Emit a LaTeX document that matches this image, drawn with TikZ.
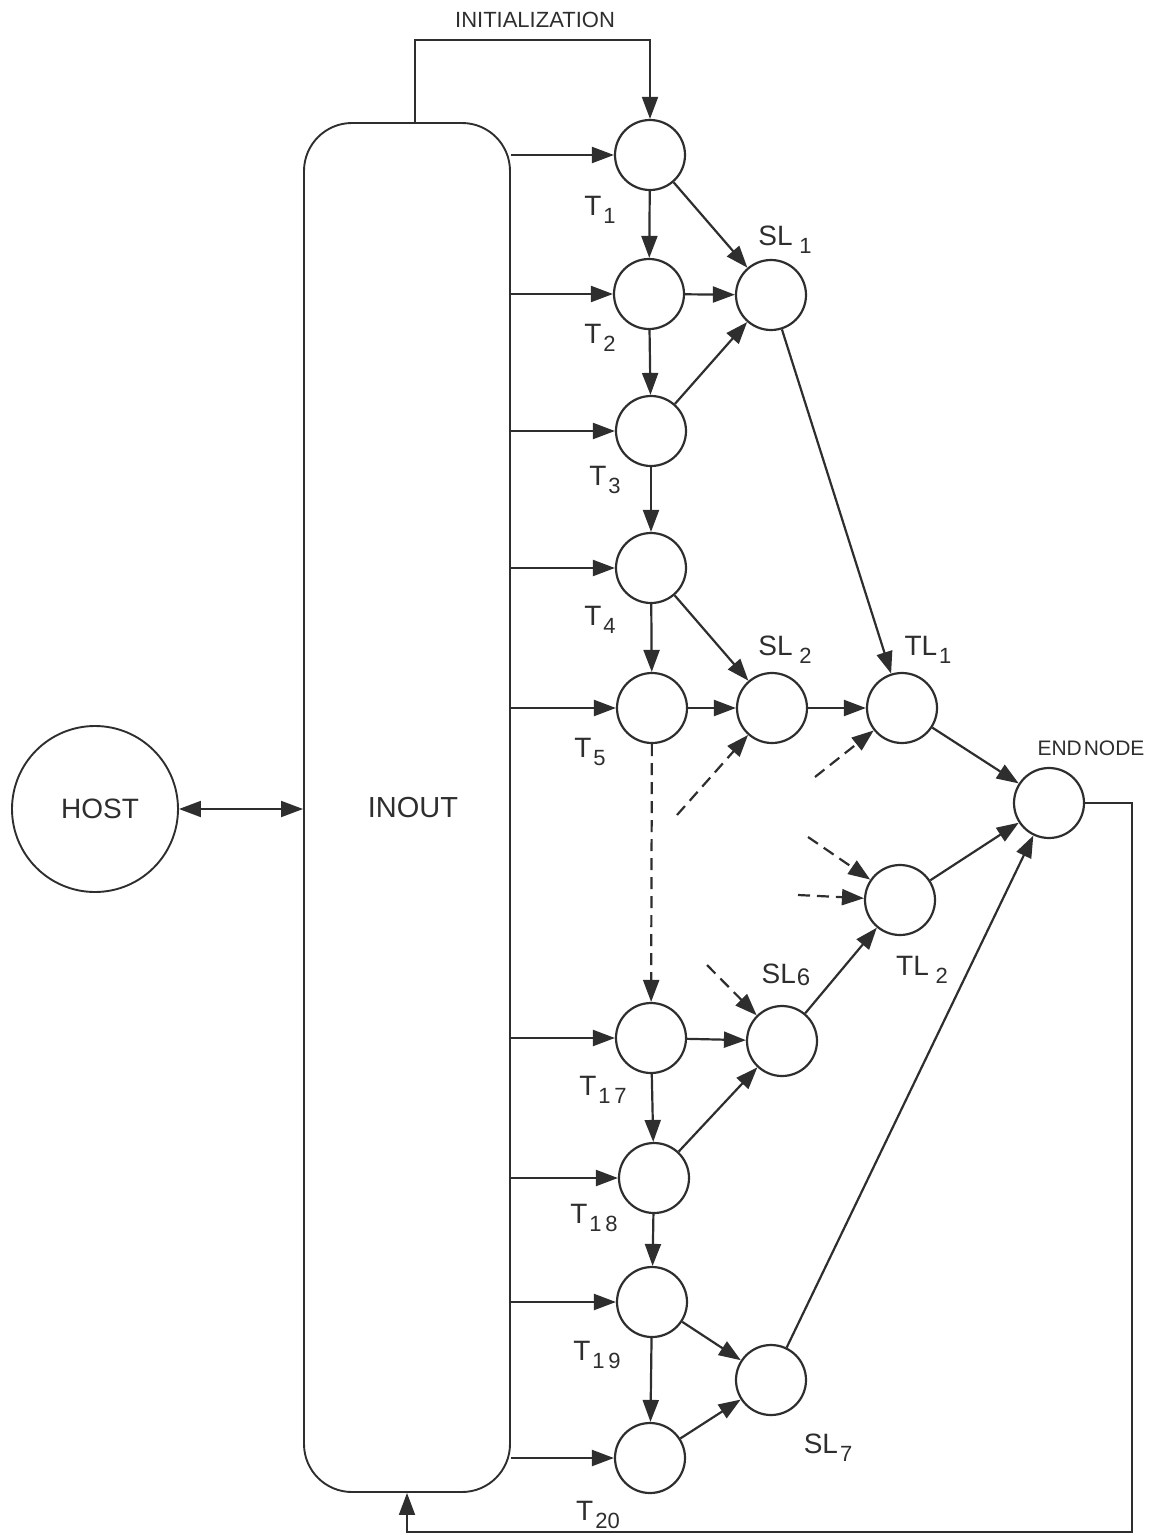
\documentclass[tikz,border=0pt]{standalone}
\usepackage{fontspec}
\setmainfont{Liberation Sans}
\usetikzlibrary{arrows.meta,calc}
\colorlet{ink}{black!82}
\newcommand\sublab[2]{#1\hspace{2pt}\raisebox{-8pt}{\fontsize{22}{22}\selectfont #2}}
\begin{document}
\begin{tikzpicture}[x=1pt,y=-1pt,color=ink,
  proc/.style={circle,draw,line width=2.2pt,minimum size=70pt,inner sep=0pt},
  arr/.style={line width=2.2pt,-{Triangle[length=22pt,width=16pt]}},
  dsh/.style={arr,dash pattern=on 12pt off 7pt},
  thin/.style={line width=1.9pt},
  lab/.style={font=\fontsize{28}{28}\selectfont,inner sep=0pt}]
\useasboundingbox (0,0) rectangle (1149,1536);

% INOUT and HOST
\node[draw,line width=1.9pt,rounded corners=48pt,minimum width=206pt,minimum height=1369pt,
      inner sep=0pt,font=\fontsize{29}{29}\selectfont] (inout) at (407,807.5) {\hspace{12pt}INOUT};
\node[circle,draw,line width=1.9pt,minimum size=166pt,inner sep=0pt,
      font=\fontsize{28}{28}\selectfont] (host) at (95,809) {\hspace{10pt}HOST};

% processor nodes
\node[proc] (t1) at (650,155) {};
\node[proc] (t2) at (649,294) {};
\node[proc] (t3) at (651,431) {};
\node[proc] (t4) at (651,568) {};
\node[proc] (t5) at (652,708) {};
\node[proc] (t17) at (651,1038) {};
\node[proc] (t18) at (654,1178) {};
\node[proc] (t19) at (652,1302) {};
\node[proc] (t20) at (650,1458) {};
\node[proc] (sl1) at (771,295) {};
\node[proc] (sl2) at (772,708) {};
\node[proc] (sl6) at (782,1041) {};
\node[proc] (sl7) at (771,1380) {};
\node[proc] (tl1) at (902,708) {};
\node[proc] (tl2) at (900,900) {};
\node[proc] (end) at (1049,803) {};

% labels
\node[font=\fontsize{22}{22}\selectfont,inner sep=0pt] (initlab) at (535,20) {INITIALIZATION};
\node[font=\fontsize{21}{21}\selectfont,inner sep=0pt] (endlab) at (1091,748) {END\hspace{2pt}NODE};
\node[lab] (lt1) at (600,210) {\sublab{T}{1}};
\node[lab] (lt2) at (600,338) {\sublab{T}{2}};
\node[lab] (lt3) at (605,480) {\sublab{T}{3}};
\node[lab] (lt4) at (600,620) {\sublab{T}{4}};
\node[lab] (lt5) at (590,752) {\sublab{T}{5}};
\node[lab] (lt17) at (603,1090) {\sublab{T}{1\,7}};
\node[lab] (lt18) at (594,1218) {\sublab{T}{1\,8}};
\node[lab] (lt19) at (597,1355) {\sublab{T}{1\,9}};
\node[lab] (lt20) at (598,1515) {\sublab{T}{20}};
\node[lab] (lsl1) at (785,240) {\sublab{SL\,}{1}};
\node[lab] (lsl2) at (785,650) {\sublab{SL\,}{2}};
\node[lab] (ltl1) at (928,650) {\sublab{TL}{1}};
\node[lab] (ltl2) at (922,970) {\sublab{TL\,}{2}};
\node[lab] (lsl6) at (786,975) {SL\hspace{1pt}\raisebox{-2pt}{\fontsize{24}{24}\selectfont 6}};
\node[lab] (lsl7) at (828,1448) {\sublab{SL}{7}};

% helper coordinates
\coordinate (initc) at (415,40);
\coordinate (loopc) at (1132,1532);
\coordinate (d1) at (677,815);
\coordinate (d2) at (815,777);
\coordinate (d3) at (808,837);
\coordinate (d4) at (798,895);
\coordinate (d5) at (707,965);

% initialization line
\draw[arr,thin] (inout.north -| initc) -- (initc) -| (t1);

% host link
\draw[thin,{Triangle[length=22pt,width=16pt]}-{Triangle[length=22pt,width=16pt]}] (host) -- (inout.west |- host);

% inout to first level
\foreach \n in {t1,t2,t3,t4,t5,t17,t18,t19,t20}
  \draw[arr] (inout.east |- \n) -- (\n);

% vertical links
\draw[arr] (t1) -- (t2);
\draw[arr] (t2) -- (t3);
\draw[arr] (t3) -- (t4);
\draw[arr] (t4) -- (t5);
\draw[dsh] (t5) -- (t17);
\draw[arr] (t17) -- (t18);
\draw[arr] (t18) -- (t19);
\draw[arr] (t19) -- (t20);

% second level
\draw[arr] (t1) -- (sl1);
\draw[arr] (t2) -- (sl1);
\draw[arr] (t3) -- (sl1);
\draw[arr] (t4) -- (sl2);
\draw[arr] (t5) -- (sl2);
\draw[dsh] (d1) -- (sl2);
\draw[dsh] (d5) -- (sl6);
\draw[arr] (t17) -- (sl6);
\draw[arr] (t18) -- (sl6);
\draw[arr] (t19) -- (sl7);
\draw[arr] (t20) -- (sl7);

% third level
\draw[arr] (sl1) -- (tl1);
\draw[arr] (sl2) -- (tl1);
\draw[dsh] (d2) -- (tl1);
\draw[dsh] (d3) -- (tl2);
\draw[dsh] (d4) -- (tl2);
\draw[arr] (sl6) -- (tl2);

% end node
\draw[arr] (tl1) -- (end);
\draw[arr] (tl2) -- (end);
\draw[arr] (sl7) -- (end);

% loop back to inout
\draw[arr,thin] (end.east) -| (loopc) -| (inout.south);
\end{tikzpicture}
\end{document}
